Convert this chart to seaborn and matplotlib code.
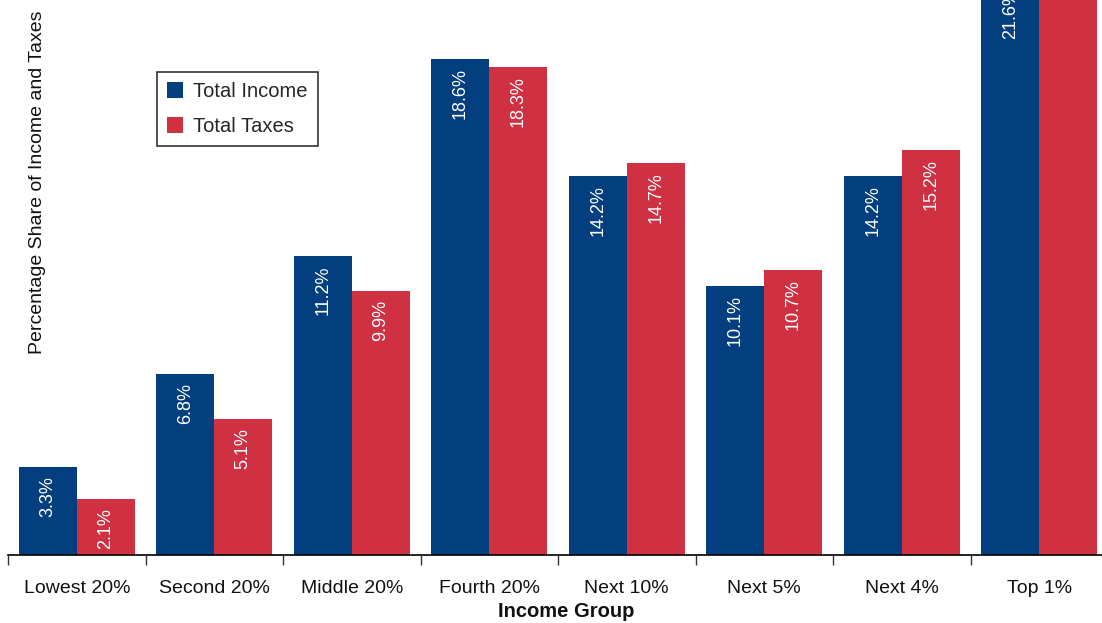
import pandas as pd
import matplotlib
matplotlib.use("Agg")
import matplotlib.pyplot as plt
import seaborn as sns
from matplotlib.ticker import FixedLocator

groups = ["Lowest 20%", "Second 20%", "Middle 20%", "Fourth 20%",
          "Next 10%", "Next 5%", "Next 4%", "Top 1%"]
income = [3.3, 6.8, 11.2, 18.6, 14.2, 10.1, 14.2, 21.6]
# top 1% taxes is cut off in the reference, value estimated
taxes = [2.1, 5.1, 9.9, 18.3, 14.7, 10.7, 15.2, 37.4]
series = ["Total Income", "Total Taxes"]
colors = ["#033F7E", "#D03142"]

df = pd.DataFrame({
    "group": groups * 2,
    "share": income + taxes,
    "series": [series[0]] * len(groups) + [series[1]] * len(groups),
})

sns.set_theme(style="white")
plt.rcParams["font.family"] = ["Liberation Sans", "DejaVu Sans"]

W, H = 1102, 623
fig = plt.figure(figsize=(W / 100, H / 100), dpi=100)
# axes runs past the top and right edge, like the cropped original
px_per_pct = 26.67
ymax = 40
ax = fig.add_axes([8 / W, 68 / H, 1100 / W, ymax * px_per_pct / H])

sns.barplot(data=df, x="group", y="share", hue="series", palette=colors,
            width=0.845, gap=0, saturation=1, linewidth=0, ax=ax, legend=True)

ax.set_xlim(-0.5, len(groups) - 0.5)
ax.set_ylim(0, ymax)

for cont in ax.containers:
    for bar in cont:
        h = bar.get_height()
        ax.annotate(f"{h:.1f}%", (bar.get_x() + bar.get_width() / 2, h),
                    xytext=(0, -6.5), textcoords="offset points",
                    ha="center", va="top", rotation=90,
                    color="white", fontsize=13)

for s in ["top", "right", "left"]:
    ax.spines[s].set_visible(False)
ax.spines["bottom"].set_color("black")
ax.spines["bottom"].set_linewidth(1.2)
ax.set_yticks([])
ax.tick_params(axis="x", which="major", length=0, labelsize=14,
               pad=18, labelcolor="#111111")
ax.xaxis.set_minor_locator(FixedLocator([i - 0.5 for i in range(len(groups) + 1)]))
ax.tick_params(axis="x", which="minor", bottom=True, length=7,
               width=1, color="#333333", direction="out")
ax.set_xlabel("")
ax.set_ylabel("")

fig.text(566 / W, 2 / H, "Income Group", ha="center",
         va="bottom", fontsize=14.5, fontweight="bold", color="#111111")
fig.text(38 / W, 1 - 182 / H, "Percentage Share of Income and Taxes",
         rotation=90, ha="center", va="center", fontsize=14, color="#111111")

handles, labels = ax.get_legend_handles_labels()
leg = fig.legend(handles, labels, loc="upper left",
                 bbox_to_anchor=(157 / W, 1 - 72 / H), fontsize=14.5,
                 frameon=True, fancybox=False, edgecolor="black",
                 handlelength=0.8, handleheight=0.8, handletextpad=0.5,
                 borderpad=0.5, labelspacing=0.8, borderaxespad=0)
leg.get_frame().set_linewidth(1.2)
ax.get_legend().remove()

fig.savefig("out.png", dpi=100)
